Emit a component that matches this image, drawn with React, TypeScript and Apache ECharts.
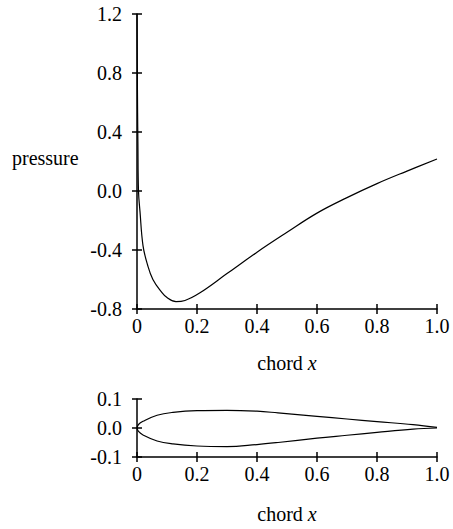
import React, { useEffect, useRef } from "react";
import * as echarts from "echarts";

const pressureX = [0, 0.001, 0.002, 0.003, 0.005, 0.01, 0.02, 0.035, 0.053, 0.08, 0.1, 0.13, 0.16, 0.21, 0.3, 0.4, 0.5, 0.6, 0.7, 0.8, 0.9, 1.0];
const pressureY = [1.2, 0.85, 0.53, 0.33, 0.0, -0.14, -0.37, -0.5, -0.6, -0.68, -0.722, -0.75, -0.742, -0.69, -0.56, -0.415, -0.28, -0.15, -0.045, 0.05, 0.135, 0.217];

const foilX = [0, 0.005, 0.02, 0.067, 0.12, 0.2, 0.3, 0.4, 0.47, 0.6, 0.7, 0.8, 0.92, 1.0];
const upperY = [0, 0.012, 0.023, 0.044, 0.054, 0.06, 0.061, 0.058, 0.052, 0.04, 0.031, 0.022, 0.0115, 0.002];
const lowerY = [0, -0.012, -0.024, -0.045, -0.055, -0.062, -0.064, -0.057, -0.05, -0.035, -0.025, -0.015, -0.004, 0];

const chordTicks = { min: 0, max: 1, interval: 0.2 };
const pressureTicks = { min: -0.8, max: 1.2, interval: 0.4 };
const foilTicks = { min: -0.1, max: 0.1, interval: 0.1 };

const FONT = "Liberation Serif";

export default function App() {
  const ref = useRef<HTMLDivElement>(null);
  useEffect(() => {
    const chart = echarts.init(ref.current!, null, { renderer: "svg" });
    const lineStyle = { color: "#000", width: 1.5 };
    const labelStyle = { color: "#000", fontFamily: FONT, fontSize: 20 };
    const xFmt = (v: number) => (Math.abs(v) < 1e-9 ? "0" : v.toFixed(1));
    const yFmt = (v: number) => (Math.abs(v) < 1e-9 ? "0.0" : v.toFixed(1));
    const mkX = (grid: number, inside: boolean) => ({
      type: "value",
      gridIndex: grid,
      position: "bottom",
      ...chordTicks,
      axisLine: { show: !inside, onZero: false, lineStyle },
      axisTick: { show: true, inside, length: 5, lineStyle },
      axisLabel: { show: !inside, formatter: xFmt, margin: 7, ...labelStyle },
      splitLine: { show: false },
    });
    const mkY = (grid: number, inside: boolean, ticks: any) => ({
      type: "value",
      gridIndex: grid,
      position: "left",
      ...ticks,
      axisLine: { show: !inside, onZero: false, lineStyle },
      axisTick: { show: true, inside, length: 5, lineStyle },
      axisLabel: { show: !inside, formatter: yFmt, margin: 15, ...labelStyle },
      splitLine: { show: false },
    });
    const curve = { color: "#000", width: 1.2 };
    chart.setOption({
      animation: false,
      backgroundColor: "#fff",
      grid: [
        { left: 137, top: 14, width: 300, height: 295 },
        { left: 137, top: 399, width: 300, height: 58 },
      ],
      xAxis: [mkX(0, false), mkX(0, true), mkX(1, false), mkX(1, true)],
      yAxis: [
        mkY(0, false, pressureTicks),
        mkY(0, true, pressureTicks),
        mkY(1, false, foilTicks),
        mkY(1, true, foilTicks),
      ],
      series: [
        {
          type: "line",
          xAxisIndex: 0,
          yAxisIndex: 0,
          data: pressureX.map((x, i) => [x, pressureY[i]]),
          showSymbol: false,
          smooth: 0.4,
          lineStyle: curve,
        },
        {
          type: "line",
          xAxisIndex: 2,
          yAxisIndex: 2,
          data: foilX.map((x, i) => [x, upperY[i]]),
          showSymbol: false,
          smooth: 0.4,
          lineStyle: curve,
        },
        {
          type: "line",
          xAxisIndex: 2,
          yAxisIndex: 2,
          data: foilX.map((x, i) => [x, lowerY[i]]),
          showSymbol: false,
          smooth: 0.4,
          lineStyle: curve,
        },
      ],
      graphic: [
        {
          type: "text",
          left: 12,
          top: 148,
          style: { text: "pressure", fill: "#000", font: `20px "${FONT}"` },
        },
        {
          type: "text",
          x: 287,
          y: 363,
          style: {
            text: "chord {i|x}",
            fill: "#000",
            font: `20px "${FONT}"`,
            align: "center",
            verticalAlign: "middle",
            rich: { i: { fontStyle: "italic", fontFamily: FONT, fontSize: 20 } },
          },
        },
        {
          type: "text",
          x: 287,
          y: 514,
          style: {
            text: "chord {i|x}",
            fill: "#000",
            font: `20px "${FONT}"`,
            align: "center",
            verticalAlign: "middle",
            rich: { i: { fontStyle: "italic", fontFamily: FONT, fontSize: 20 } },
          },
        },
      ],
    });
    return () => chart.dispose();
  }, []);
  return <div ref={ref} style={{ width: 453, height: 529, position: "absolute", left: 0, top: 0 }} />;
}
